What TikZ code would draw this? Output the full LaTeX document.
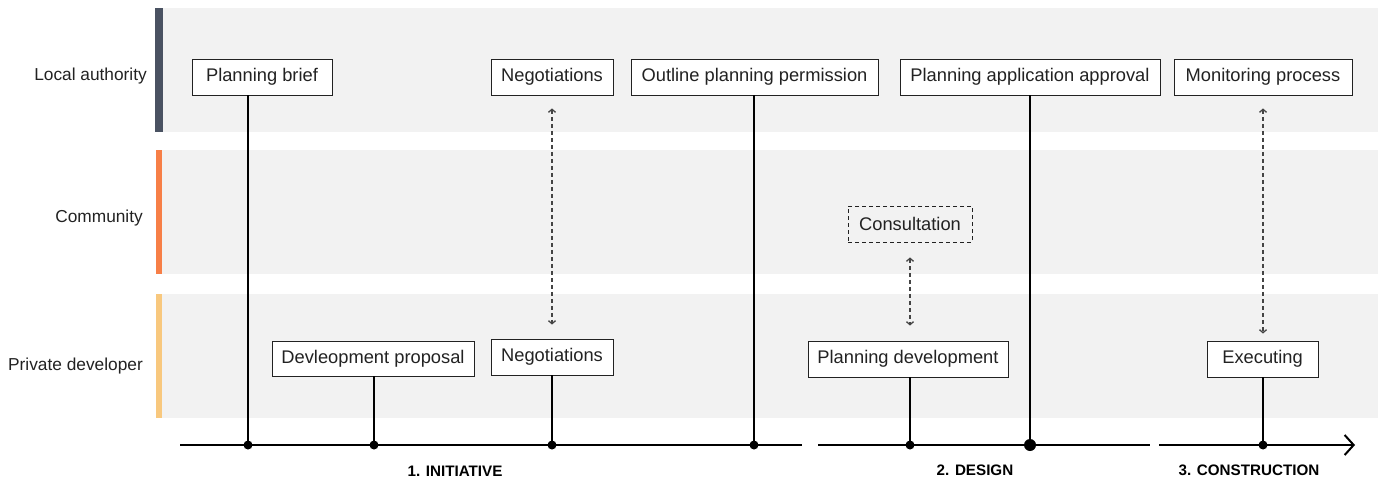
\documentclass[tikz,border=0pt]{standalone}
\usepackage{fontspec}
\setmainfont{Liberation Sans}
\usetikzlibrary{arrows.meta}
\definecolor{lanebg}{HTML}{F2F2F2}
\definecolor{barA}{HTML}{4A5262}
\definecolor{barB}{HTML}{F77F47}
\definecolor{barC}{HTML}{F8C87E}
\definecolor{txt}{HTML}{222222}
\definecolor{dashc}{HTML}{444444}
\tikzset{
  box/.style={draw=txt, line width=0.9pt, fill=white, inner sep=0pt, text=txt,
    font=\fontsize{18.3}{20}\selectfont, minimum height=36pt},
  dbox/.style={box, dashed, dash pattern=on 4pt off 3pt, fill=none},
  lanelabel/.style={anchor=east, text=txt, font=\fontsize{17.3}{19}\selectfont, inner sep=0pt},
  phase/.style={text=black, font=\bfseries\fontsize{15.2}{17}\selectfont, inner sep=0pt},
  conn/.style={line width=1.6pt, black},
  axisline/.style={line width=2.6pt, black},
  dot/.style={circle, fill=black, inner sep=0pt, minimum size=9pt},
  bigdot/.style={circle, fill=black, inner sep=0pt, minimum size=12pt},
  darrow/.style={dashc, line width=1.3pt, dash pattern=on 4pt off 3pt,
    {Straight Barb[length=3pt,width=7pt]}-{Straight Barb[length=3pt,width=7pt]}}
}
\begin{document}
\begin{tikzpicture}[x=1pt,y=-1pt]
\useasboundingbox (0,0) rectangle (1378,482);
% lanes
\fill[lanebg] (162,8) rectangle (1378,132);
\fill[lanebg] (162,150) rectangle (1378,274);
\fill[lanebg] (162,294) rectangle (1378,418);
\fill[barA] (155,8) rectangle (163,132);
\fill[barB] (156,150) rectangle (162,274);
\fill[barC] (156,294) rectangle (162,418);
% lane labels
\node[lanelabel] (la) at (147,76) {Local authority};
\node[lanelabel] (lc) at (143,218) {Community};
\node[lanelabel] (lp) at (143,366) {Private developer};
% axis
\coordinate (a0) at (180,445);
\coordinate (a1) at (802,445);
\coordinate (a2) at (818,445);
\coordinate (a3) at (1150,445);
\coordinate (a4) at (1159,445);
\coordinate (a5) at (1355,445);
\draw[axisline] (a0) -- (a1);
\draw[axisline] (a2) -- (a3);
\draw[line width=2pt, -{Straight Barb[length=9pt,width=20pt,line width=2pt]}] (a4) -- (a5);
% boxes lane 1
\node[box, minimum width=140pt] (pb) at (262,77) {Planning brief};
\node[box, minimum width=122pt] (n1) at (552,77) {Negotiations};
\node[box, minimum width=247pt] (opp) at (754.5,77) {Outline planning permission};
\node[box, minimum width=260pt] (paa) at (1030,77) {Planning application approval};
\node[box, minimum width=178pt] (mp) at (1263,77) {Monitoring process};
% community
\node[dbox, minimum width=124pt] (con) at (910,224) {Consultation};
% boxes lane 3
\node[box, minimum width=202pt, minimum height=35pt] (dp) at (373,358.5) {Devleopment proposal};
\node[box, minimum width=122pt] (n2) at (552,357) {Negotiations};
\node[box, minimum width=200pt] (pd) at (908,359) {Planning development};
\node[box, minimum width=111pt] (ex) at (1262.5,359) {Executing};
% dots on axis
\coordinate (d1) at (248,445);
\coordinate (d2) at (374,445);
\coordinate (d3) at (552,445);
\coordinate (d4) at (754,445);
\coordinate (d5) at (910,445);
\coordinate (d6) at (1030,445);
\coordinate (d7) at (1263,445);
\draw[conn] (d1) -- (d1 |- pb.south);
\draw[conn] (d2) -- (d2 |- dp.south);
\draw[conn] (d3) -- (d3 |- n2.south);
\draw[conn] (d4) -- (d4 |- opp.south);
\draw[conn] (d5) -- (d5 |- pd.south);
\draw[conn] (d6) -- (d6 |- paa.south);
\draw[conn] (d7) -- (d7 |- ex.south);
\foreach \d in {d1,d2,d3,d4,d5,d7} \node[dot] at (\d) {};
\node[bigdot] at (d6) {};
% dashed arrows
\draw[darrow, shorten <=13pt, shorten >=14pt] (n1.south) -- (n2.north);
\draw[darrow, shorten <=15pt, shorten >=15pt] (con.south) -- (con.south |- pd.north);
\draw[darrow, shorten <=13pt, shorten >=7pt] (mp.south) -- (mp.south |- ex.north);
% phases
\node[phase] (p1) at (455,471) {1. INITIATIVE};
\node[phase] (p2) at (975,470) {2. DESIGN};
\node[phase] (p3) at (1249,470) {3. CONSTRUCTION};
\end{tikzpicture}
\end{document}
